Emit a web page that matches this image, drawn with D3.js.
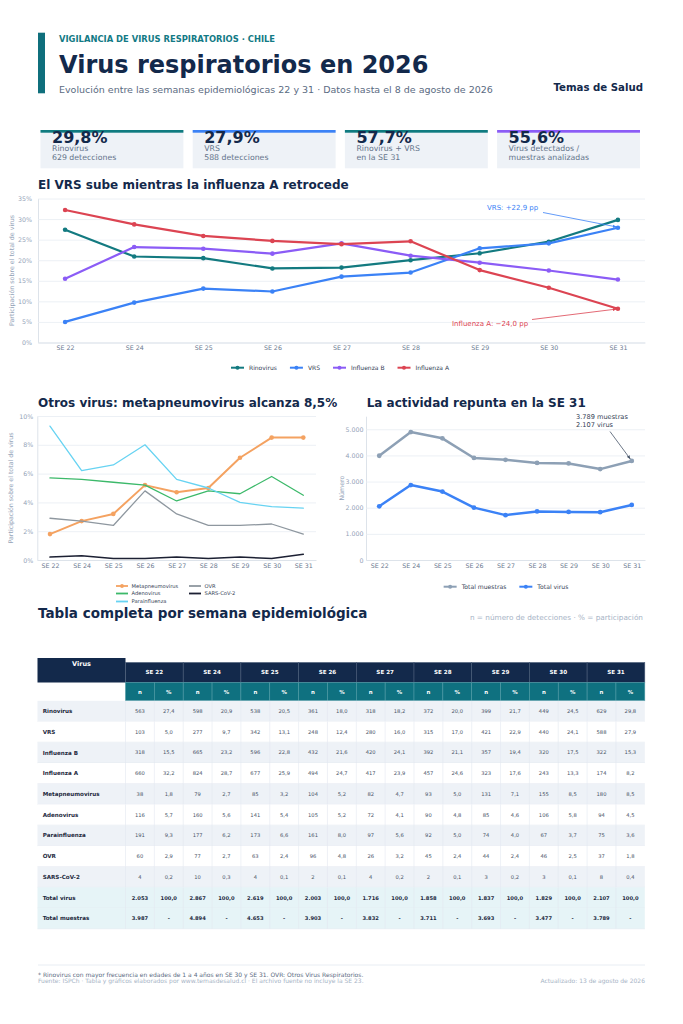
<!DOCTYPE html>
<html>
<head>
<meta charset="utf-8">
<script src="https://cdn.jsdelivr.net/npm/d3@7"></script>
<style>
  body { margin: 0; background: #fff; }
</style>
</head>
<body>
<div id="page"></div>
<script>
const weeks = ["SE 22", "SE 24", "SE 25", "SE 26", "SE 27", "SE 28", "SE 29", "SE 30", "SE 31"];

const rinovirusN = [563, 598, 538, 361, 318, 372, 399, 449, 629];
const rinovirusPct = [27.4, 20.9, 20.5, 18.0, 18.2, 20.0, 21.7, 24.5, 29.8];
const vrsN = [103, 277, 342, 248, 280, 315, 421, 440, 588];
const vrsPct = [5.0, 9.7, 13.1, 12.4, 16.0, 17.0, 22.9, 24.1, 27.9];
const influenzaBN = [318, 665, 596, 432, 420, 392, 357, 320, 322];
const influenzaBPct = [15.5, 23.2, 22.8, 21.6, 24.1, 21.1, 19.4, 17.5, 15.3];
const influenzaAN = [660, 824, 677, 494, 417, 457, 323, 243, 174];
const influenzaAPct = [32.2, 28.7, 25.9, 24.7, 23.9, 24.6, 17.6, 13.3, 8.2];
const metapneumoN = [38, 79, 85, 104, 82, 93, 131, 155, 180];
const metapneumoPct = [1.8, 2.7, 3.2, 5.2, 4.7, 5.0, 7.1, 8.5, 8.5];
const adenovirusN = [116, 160, 141, 105, 72, 90, 85, 106, 94];
const adenovirusPct = [5.7, 5.6, 5.4, 5.2, 4.1, 4.8, 4.6, 5.8, 4.5];
const parainfluenzaN = [191, 177, 173, 161, 97, 92, 74, 67, 75];
const parainfluenzaPct = [9.3, 6.2, 6.6, 8.0, 5.6, 5.0, 4.0, 3.7, 3.6];
const ovrN = [60, 77, 63, 96, 26, 45, 44, 46, 37];
const ovrPct = [2.9, 2.7, 2.4, 4.8, 3.2, 2.4, 2.4, 2.5, 1.8];
const sarsN = [4, 10, 4, 2, 4, 2, 3, 3, 8];
const sarsPct = [0.2, 0.3, 0.1, 0.1, 0.2, 0.1, 0.2, 0.1, 0.4];
const totalVirus = [2053, 2867, 2619, 2003, 1716, 1858, 1837, 1829, 2107];
const totalVirusPct = [100, 100, 100, 100, 100, 100, 100, 100, 100];
const totalMuestras = [3987, 4894, 4653, 3903, 3832, 3711, 3693, 3477, 3789];

const kpiValues = [29.8, 27.9, 57.7, 55.6];
const kpiLabels = [
  ["Rinovirus", "629 detecciones"],
  ["VRS", "588 detecciones"],
  ["Rinovirus + VRS", "en la SE 31"],
  ["Virus detectados /", "muestras analizadas"]
];

const W = 683, H = 1024;
const FONT = "'DejaVu Sans', sans-serif";
const navy = "#13294b", muted = "#94a3b8", slate = "#5b6b82";

const es = d3.formatLocale({ decimal: ",", thousands: ".", grouping: [3], currency: ["$", ""] });
const fmtN = es.format(",d");
const fmt1 = es.format(".1f");

const svg = d3.select("#page").append("svg")
  .attr("width", W)
  .attr("height", H)
  .style("font-family", FONT);

svg.append("defs").selectAll("marker")
  .data([["arr-blue", "#3b82f6"], ["arr-red", "#dc4452"], ["arr-gray", "#475569"]])
  .join("marker")
  .attr("id", d => d[0])
  .attr("viewBox", "0 0 10 10")
  .attr("refX", 9).attr("refY", 5)
  .attr("markerWidth", 5).attr("markerHeight", 5)
  .attr("orient", "auto")
  .append("path")
  .attr("d", "M0,1L10,5L0,9z")
  .attr("fill", d => d[1]);

// ---- header ----
svg.append("rect").attr("x", 38).attr("y", 32.7).attr("width", 7).attr("height", 60.6).attr("fill", "#0f6f7c");
svg.append("text").attr("x", 59).attr("y", 41.7)
  .attr("font-size", 8.4).attr("font-weight", "bold").attr("fill", "#137a85")
  .text("VIGILANCIA DE VIRUS RESPIRATORIOS · CHILE");
svg.append("text").attr("x", 59).attr("y", 73.3)
  .attr("font-size", 24).attr("font-weight", "bold").attr("fill", navy)
  .text("Virus respiratorios en 2026");
svg.append("text").attr("x", 59).attr("y", 92.5)
  .attr("font-size", 9.5).attr("fill", slate)
  .text("Evolución entre las semanas epidemiológicas 22 y 31 · Datos hasta el 8 de agosto de 2026");
svg.append("text").attr("x", 643).attr("y", 90.7).attr("text-anchor", "end")
  .attr("font-size", 10.2).attr("font-weight", "bold").attr("fill", navy)
  .text("Temas de Salud");

// ---- KPI cards ----
const cardX = d3.scaleBand().domain(d3.range(kpiValues.length)).range([40.5, 640]).paddingInner(0.061);
const cardColors = ["#0f7b80", "#3b82f6", "#0f7b80", "#8b5cf6"];
const cards = svg.append("g").selectAll("g").data(kpiValues).join("g")
  .attr("transform", (d, i) => `translate(${cardX(i)},130)`);
cards.append("rect").attr("width", cardX.bandwidth()).attr("height", 38.3).attr("fill", "#eef2f7");
cards.append("rect").attr("width", cardX.bandwidth()).attr("height", 2.7).attr("fill", (d, i) => cardColors[i]);
cards.append("text").attr("x", 11.5).attr("y", 13)
  .attr("font-size", 16).attr("font-weight", "bold").attr("fill", navy)
  .text(d => fmt1(d) + "%");
cards.each(function (d, i) {
  d3.select(this).selectAll("text.lbl").data(kpiLabels[i]).join("text")
    .attr("class", "lbl")
    .attr("x", 11.5).attr("y", (t, j) => 21 + j * 9.2)
    .attr("font-size", 7.8).attr("fill", "#64748b")
    .text(t => t);
});

// ---- helpers ----
function title(x, y, size, txt) {
  svg.append("text").attr("x", x).attr("y", y)
    .attr("font-size", size).attr("font-weight", "bold").attr("fill", navy).text(txt);
}

function lineChart(opt) {
  const g = svg.append("g");
  const x = d3.scalePoint().domain(weeks).range([opt.left, opt.right]).padding(opt.pad);
  const y = d3.scaleLinear().domain(opt.domain).range([opt.bottom, opt.top]);

  g.append("g")
    .attr("transform", `translate(${opt.left},0)`)
    .call(d3.axisLeft(y).tickValues(opt.ticks).tickFormat(opt.fmt)
      .tickSize(-(opt.right - opt.left)).tickSizeOuter(0).tickPadding(opt.yPad))
    .call(a => {
      a.attr("font-family", FONT).attr("font-size", 6.3);
      a.select(".domain").attr("stroke", "#dde3ea");
      a.selectAll(".tick line").attr("stroke", "#e7ecf2").attr("stroke-width", 0.8);
      a.selectAll(".tick text").attr("fill", muted);
    });

  g.append("g")
    .attr("transform", `translate(0,${opt.bottom})`)
    .call(d3.axisBottom(x).tickSize(0).tickSizeOuter(0).tickPadding(3.5))
    .call(a => {
      a.attr("font-family", FONT).attr("font-size", 6.3);
      a.select(".domain").attr("stroke", "#dde3ea");
      a.selectAll(".tick text").attr("fill", "#6b7a90");
    });

  g.append("text")
    .attr("transform", `translate(${opt.titleX},${(opt.top + opt.bottom) / 2}) rotate(-90)`)
    .attr("text-anchor", "middle").attr("dy", "0.35em")
    .attr("font-size", 6.3).attr("fill", muted)
    .text(opt.yTitle);

  const line = d3.line().x(d => x(d.w)).y(d => y(d.v));
  opt.series.forEach(s => {
    const pts = weeks.map((w, i) => ({ w, v: s.values[i] }));
    g.append("path").datum(pts)
      .attr("fill", "none").attr("stroke", s.color).attr("stroke-width", s.width)
      .attr("stroke-linejoin", "round").attr("stroke-linecap", "round")
      .attr("d", line);
    if (s.marker) {
      g.append("g").selectAll("circle").data(pts).join("circle")
        .attr("cx", d => x(d.w)).attr("cy", d => y(d.v))
        .attr("r", s.marker).attr("fill", s.color);
    }
  });
  return { g, x, y };
}

function legendRow(series, cx, cy, size) {
  const lg = svg.append("g");
  let pos = 0;
  series.forEach(s => {
    const it = lg.append("g").attr("transform", `translate(${pos},0)`);
    it.append("line").attr("x1", 0).attr("x2", 13).attr("y1", 0).attr("y2", 0)
      .attr("stroke", s.color).attr("stroke-width", 2);
    it.append("circle").attr("cx", 6.5).attr("cy", 0).attr("r", 2).attr("fill", s.color);
    const t = it.append("text").attr("x", 18).attr("dy", "0.35em")
      .attr("font-size", size).attr("fill", "#334155").text(s.name);
    pos += 18 + t.node().getComputedTextLength() + 13;
  });
  lg.attr("transform", `translate(${cx - (pos - 13) / 2},${cy})`);
}

// ---- chart 1 ----
title(38, 189, 12, "El VRS sube mientras la influenza A retrocede");
const mainSeries = [
  { name: "Rinovirus", values: rinovirusPct, color: "#137a80", width: 2.2, marker: 2.3 },
  { name: "VRS", values: vrsPct, color: "#3b82f6", width: 2.2, marker: 2.3 },
  { name: "Influenza B", values: influenzaBPct, color: "#8b5cf6", width: 2.2, marker: 2.3 },
  { name: "Influenza A", values: influenzaAPct, color: "#dc4452", width: 2.2, marker: 2.3 }
];
const c1 = lineChart({
  left: 38, right: 645, pad: 0.392, top: 198.5, bottom: 342.5,
  domain: [0, 35], ticks: d3.range(0, 36, 5), fmt: d => d + "%", yPad: 6,
  titleX: 12, yTitle: "Participación sobre el total de virus",
  series: mainSeries
});
legendRow(mainSeries, 340, 367.7, 6);

const last = weeks.length - 1;
const vrsDelta = vrsPct[last] - vrsPct[0];
const infADelta = influenzaAPct[last] - influenzaAPct[0];
const pVrs = [c1.x(weeks[last]), c1.y(vrsPct[last])];
const pInfA = [c1.x(weeks[last]), c1.y(influenzaAPct[last])];
c1.g.append("text").attr("x", 487).attr("y", 210)
  .attr("font-size", 7).attr("fill", "#3b82f6")
  .text("VRS: +" + fmt1(vrsDelta) + " pp");
c1.g.append("line").attr("x1", 543).attr("y1", 212.5).attr("x2", pVrs[0] - 1.5).attr("y2", pVrs[1] - 0.8)
  .attr("stroke", "#3b82f6").attr("stroke-width", 0.8).attr("marker-end", "url(#arr-blue)");
c1.g.append("text").attr("x", 452).attr("y", 325.5)
  .attr("font-size", 7).attr("fill", "#dc4452")
  .text("Influenza A: −" + fmt1(Math.abs(infADelta)) + " pp");
c1.g.append("line").attr("x1", 532).attr("y1", 319.5).attr("x2", pInfA[0] - 1.5).attr("y2", pInfA[1] + 0.3)
  .attr("stroke", "#dc4452").attr("stroke-width", 0.8).attr("marker-end", "url(#arr-red)");

// ---- chart 2 ----
title(38, 406.7, 12, "Otros virus: metapneumovirus alcanza 8,5%");
const otherSeries = [
  { name: "Metapneumovirus", values: metapneumoPct, color: "#f4a261", width: 2, marker: 2.3 },
  { name: "Adenovirus", values: adenovirusPct, color: "#3cb96a", width: 1.3 },
  { name: "Parainfluenza", values: parainfluenzaPct, color: "#67d3f2", width: 1.3 },
  { name: "OVR", values: ovrPct, color: "#8e979f", width: 1.3 },
  { name: "SARS-CoV-2", values: sarsPct, color: "#1c2033", width: 1.5 }
];
lineChart({
  left: 37.3, right: 316, pad: 0.4, top: 416, bottom: 560,
  domain: [0, 10], ticks: d3.range(0, 11, 2), fmt: d => d + "%", yPad: 4,
  titleX: 11, yTitle: "Participación sobre el total de virus",
  series: otherSeries
});
const lg2 = svg.append("g").selectAll("g").data(otherSeries).join("g")
  .attr("transform", (d, i) => `translate(${i < 3 ? 116 : 189},${[586, 593.5, 601.5][i % 3]})`);
lg2.append("line").attr("x1", 0).attr("x2", 12).attr("stroke", d => d.color).attr("stroke-width", 1.8);
lg2.filter(d => d.marker).append("circle").attr("cx", 6).attr("r", 1.9).attr("fill", d => d.color);
lg2.append("text").attr("x", 15.5).attr("dy", "0.35em").attr("font-size", 5.2).attr("fill", "#334155").text(d => d.name);

// ---- chart 3 ----
title(366.7, 406.7, 12, "La actividad repunta en la SE 31");
const totalSeries = [
  { name: "Total muestras", values: totalMuestras, color: "#8da0b5", width: 2.5, marker: 2.4 },
  { name: "Total virus", values: totalVirus, color: "#3b82f6", width: 2.5, marker: 2.4 }
];
const c3 = lineChart({
  left: 366, right: 645, pad: 0.42, top: 416.2, bottom: 560,
  domain: [0, 5500], ticks: d3.range(0, 5001, 1000), fmt: d => fmtN(d), yPad: 2.5,
  titleX: 341.5, yTitle: "Número",
  series: totalSeries
});
legendRow(totalSeries, 506, 586.7, 6.1);
const pTot = [c3.x(weeks[last]), c3.y(totalMuestras[last])];
c3.g.append("text").attr("x", 576).attr("y", 419.3).attr("font-size", 6.6).attr("fill", "#334155")
  .text(fmtN(totalMuestras[last]) + " muestras");
c3.g.append("text").attr("x", 576).attr("y", 426.7).attr("font-size", 6.6).attr("fill", "#334155")
  .text(fmtN(totalVirus[last]) + " virus");
c3.g.append("line").attr("x1", 610).attr("y1", 431.5).attr("x2", pTot[0] - 1.5).attr("y2", pTot[1] - 2)
  .attr("stroke", "#475569").attr("stroke-width", 0.8).attr("marker-end", "url(#arr-gray)");

// ---- table ----
title(38, 618.3, 13.5, "Tabla completa por semana epidemiológica");
svg.append("text").attr("x", 643).attr("y", 620).attr("text-anchor", "end")
  .attr("font-size", 7.3).attr("fill", "#a7b4c6")
  .text("n = número de detecciones · % = participación");

const tableRows = [
  { name: "Rinovirus", n: rinovirusN, pct: rinovirusPct },
  { name: "VRS", n: vrsN, pct: vrsPct },
  { name: "Influenza B", n: influenzaBN, pct: influenzaBPct },
  { name: "Influenza A", n: influenzaAN, pct: influenzaAPct },
  { name: "Metapneumovirus", n: metapneumoN, pct: metapneumoPct },
  { name: "Adenovirus", n: adenovirusN, pct: adenovirusPct },
  { name: "Parainfluenza", n: parainfluenzaN, pct: parainfluenzaPct },
  { name: "OVR", n: ovrN, pct: ovrPct },
  { name: "SARS-CoV-2", n: sarsN, pct: sarsPct },
  { name: "Total virus", n: totalVirus, pct: totalVirusPct, total: true },
  { name: "Total muestras", n: totalMuestras, pct: null, total: true }
];

const tLeft = 37.5, tName = 125.5, tRight = 644.8;
const colX = d3.scaleBand().domain(weeks).range([tName, tRight]);
const subX = d3.scaleBand().domain(["n", "%"]).range([0, colX.bandwidth()]);
const rowY = d3.scaleBand().domain(tableRows.map(r => r.name)).range([700.8, 928.8]);
const tbl = svg.append("g");

// header row 1
tbl.append("rect").attr("x", tLeft).attr("y", 658).attr("width", tName - tLeft).attr("height", 24.5).attr("fill", navy);
tbl.append("text").attr("x", (tLeft + tName) / 2).attr("y", 665.7).attr("text-anchor", "middle")
  .attr("font-size", 6.5).attr("font-weight", "bold").attr("fill", "#fff").text("Virus");
const hw = tbl.append("g").selectAll("g").data(weeks).join("g")
  .attr("transform", d => `translate(${colX(d)},0)`);
hw.append("rect").attr("y", 662.5).attr("width", colX.bandwidth()).attr("height", 20)
  .attr("fill", navy).attr("stroke", "#4a5d78").attr("stroke-width", 0.6);
hw.append("text").attr("x", colX.bandwidth() / 2).attr("y", 672.5).attr("dy", "0.35em")
  .attr("text-anchor", "middle").attr("font-size", 5.6).attr("font-weight", "bold").attr("fill", "#fff")
  .text(d => d);
// header row 2
hw.selectAll("g").data(subX.domain()).join("g")
  .attr("transform", d => `translate(${subX(d)},682.5)`)
  .call(s => {
    s.append("rect").attr("width", subX.bandwidth()).attr("height", 18.3)
      .attr("fill", "#0f7180").attr("stroke", "#4f9aa5").attr("stroke-width", 0.6);
    s.append("text").attr("x", subX.bandwidth() / 2).attr("y", 9.2).attr("dy", "0.35em")
      .attr("text-anchor", "middle").attr("font-size", 5.4).attr("font-weight", "bold").attr("fill", "#fff")
      .text(d => d);
  });

// body
const rows = tbl.append("g").selectAll("g").data(tableRows).join("g")
  .attr("transform", d => `translate(0,${rowY(d.name)})`);
rows.append("rect").attr("x", tLeft).attr("width", tRight - tLeft).attr("height", rowY.bandwidth())
  .attr("fill", (d, i) => d.total ? "#e6f4f7" : (i % 2 === 0 ? "#eef2f7" : "#ffffff"));
rows.append("line").attr("x1", tLeft).attr("x2", tRight).attr("y1", rowY.bandwidth()).attr("y2", rowY.bandwidth())
  .attr("stroke", "#e2e8f0").attr("stroke-width", 0.6);
rows.append("text").attr("x", 42.7).attr("y", rowY.bandwidth() / 2).attr("dy", "0.35em")
  .attr("font-size", 5.6).attr("font-weight", "bold").attr("fill", "#1e2a3e")
  .text(d => d.name);
rows.each(function (r) {
  const cells = d3.select(this).selectAll("g").data(weeks.map((w, i) => ({ w, i }))).join("g")
    .attr("transform", d => `translate(${colX(d.w)},0)`);
  cells.append("line").attr("x1", 0).attr("x2", 0).attr("y1", 0).attr("y2", rowY.bandwidth())
    .attr("stroke", "#e2e8f0").attr("stroke-width", 0.6);
  cells.append("line").attr("x1", subX("%")).attr("x2", subX("%")).attr("y1", 0).attr("y2", rowY.bandwidth())
    .attr("stroke", "#e2e8f0").attr("stroke-width", 0.6);
  const txt = (sel, key, val) => sel.append("text")
    .attr("x", subX(key) + subX.bandwidth() / 2).attr("y", rowY.bandwidth() / 2).attr("dy", "0.35em")
    .attr("text-anchor", "middle").attr("font-size", 5.2)
    .attr("font-weight", r.total ? "bold" : "normal")
    .attr("fill", r.total ? "#1e2a3e" : "#4a5568")
    .text(val);
  cells.each(function (d) {
    const c = d3.select(this);
    txt(c, "n", fmtN(r.n[d.i]));
    txt(c, "%", r.pct ? fmt1(r.pct[d.i]) : "-");
  });
});

// ---- footer ----
svg.append("line").attr("x1", 38).attr("x2", 645).attr("y1", 965).attr("y2", 965)
  .attr("stroke", "#e2e8f0").attr("stroke-width", 0.8);
svg.append("text").attr("x", 38).attr("y", 976.7).attr("font-size", 6).attr("fill", "#5b6b82")
  .text("* Rinovirus con mayor frecuencia en edades de 1 a 4 años en SE 30 y SE 31. OVR: Otros Virus Respiratorios.");
svg.append("text").attr("x", 38).attr("y", 982.7).attr("font-size", 6).attr("fill", "#a7b4c6")
  .text("Fuente: ISPCh · Tabla y gráficos elaborados por www.temasdesalud.cl · El archivo fuente no incluye la SE 23.");
svg.append("text").attr("x", 645).attr("y", 982.7).attr("text-anchor", "end").attr("font-size", 6).attr("fill", "#a7b4c6")
  .text("Actualizado: 13 de agosto de 2026");
</script>
</body>
</html>
